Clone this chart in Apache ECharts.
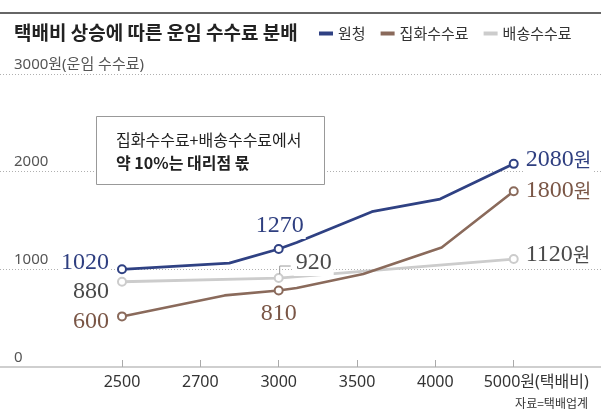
<!DOCTYPE html>
<html>
<head>
<meta charset="utf-8">
<script src="https://cdn.jsdelivr.net/npm/echarts@6/dist/echarts.min.js"></script>
<style>
html,body{margin:0;padding:0;background:#fff;}
#main{width:601px;height:416px;}
</style>
</head>
<body>
<div id="main"></div>
<script>
// ---- data ----
const categories = ['2500', '2700', '3000', '3500', '4000', '5000'];
const yTicks = [0, 1000, 2000, 3000];
const seriesNames = ['원청', '집화수수료', '배송수수료'];
// [x position in category units, value]
const wonchung = [[0, 1000], [1.37, 1064], [2, 1208], [2.23, 1275], [3.19, 1590], [4.06, 1720], [5, 2080]];
const jiphwa   = [[0, 518], [1.31, 733], [2, 784], [2.23, 808], [3.08, 952], [4.08, 1224], [5, 1800]];
const baesong  = [[0, 873], [2, 911], [5, 1105]];
const markerX = [0, 2, 5];
const wonchungLabels = ['1020', '1270', '2080'];
const jiphwaLabels   = ['600', '810', '1800'];
const baesongLabels  = ['880', '920', '1120'];

const SERIF = "'Liberation Serif', 'DejaVu Serif', serif";
const SANS = "'Noto Sans', 'Noto Sans CJK KR', sans-serif";
const KR = "'Noto Sans CJK KR', sans-serif";

const colors = { blue: '#2f4183', brown: '#8a6a5b', gray: '#cccccc' };
const labelColors = { blue: '#2f3f80', brown: '#7a5646', gray: '#4a4a4a' };

function richFor(c) {
  return {
    n: { fontFamily: SERIF, fontSize: 24, color: c, lineHeight: 26 },
    w: { fontFamily: KR, fontSize: 19, color: c, lineHeight: 26 }
  };
}

// label placement per marker (index in markerX)
const placements = {
  blue:  [ {position: 'left', distance: 6, offset: [0, -7]},
           {position: 'top', distance: 5, offset: [1, 0]},
           {position: 'right', distance: 5, offset: [0, -4]} ],
  brown: [ {position: 'left', distance: 6, offset: [0, 5]},
           {position: 'bottom', distance: 5, offset: [0, 0]},
           {position: 'right', distance: 5, offset: [0, 0]} ],
  gray:  [ {position: 'left', distance: 6, offset: [0, 10]},
           {position: 'right', distance: 10, offset: [0, -15]},
           {position: 'right', distance: 5, offset: [0, -4]} ]
};

function buildData(points, labels, key) {
  return points.map(function (p) {
    const mi = markerX.indexOf(p[0]);
    if (mi < 0) return { value: p, symbol: 'none' };
    const pl = placements[key][mi];
    const isEnd = mi === markerX.length - 1;
    return {
      value: p,
      symbol: 'emptyCircle',
      symbolSize: 8,
      label: {
        show: true,
        position: pl.position,
        distance: pl.distance,
        offset: pl.offset,
        backgroundColor: '#fff',
        padding: [0, 2],
        formatter: isEnd ? '{n|' + labels[mi] + '}{w|원}' : '{n|' + labels[mi] + '}',
        rich: richFor(labelColors[key])
      }
    };
  });
}

const chart = echarts.init(document.getElementById('main'), null, { renderer: 'canvas' });

const option = {
  backgroundColor: '#fff',
  animation: false,
  title: {
    text: '택배비 상승에 따른 운임 수수료 분배',
    left: 14, top: 23, padding: 0,
    textStyle: { fontFamily: KR, fontSize: 19, fontWeight: 'bold', color: '#222', lineHeight: 20 }
  },
  legend: {
    data: seriesNames,
    left: 319, top: 26, padding: 0,
    icon: 'rect', itemWidth: 14, itemHeight: 4, itemGap: 15,
    itemStyle: { borderWidth: 0 },
    textStyle: { fontFamily: KR, fontSize: 15, color: '#333' },
    selectedMode: false
  },
  grid: { left: 0, right: 0, top: 74, bottom: 49 },
  xAxis: {
    type: 'value',
    min: -1.557, max: 6.114,
    axisLine: { show: true, lineStyle: { color: '#cfcfcf', width: 2 } },
    axisTick: { show: true, inside: true, length: 7, customValues: [0, 1, 2, 3, 4, 5], lineStyle: { color: '#aaa', width: 1 } },
    splitLine: { show: false },
    axisLabel: {
      customValues: [0, 1, 2, 3, 4, 5],
      margin: 7,
      fontFamily: SANS, fontSize: 16, color: '#333',
      formatter: function (v) {
        const i = Math.round(v);
        if (i === categories.length - 1) return '{sp|}' + categories[i] + '원(택배비)';
        return categories[i];
      },
      rich: { sp: { width: 45 } }
    }
  },
  yAxis: {
    type: 'value', min: 0, max: 3000, interval: 1000,
    axisLine: { show: false }, axisTick: { show: false },
    splitLine: { show: true, lineStyle: { color: '#b0b0b0', type: [1, 2], width: 1 } },
    axisLabel: {
      inside: true, margin: 14, align: 'left', verticalAlign: 'bottom',
      padding: [0, 0, 2, 0],
      fontFamily: SANS, fontSize: 15, color: '#555',
      formatter: function (v) { return v === yTicks[yTicks.length - 1] ? v + '원(운임 수수료)' : String(v); }
    }
  },
  series: [
    {
      name: seriesNames[2], type: 'line', color: colors.gray,
      lineStyle: { width: 2.8, color: colors.gray },
      itemStyle: { color: colors.gray },
      data: buildData(baesong, baesongLabels, 'gray'), z: 2
    },
    {
      name: seriesNames[1], type: 'line', color: colors.brown,
      lineStyle: { width: 2.6, color: colors.brown },
      itemStyle: { color: colors.brown },
      data: buildData(jiphwa, jiphwaLabels, 'brown'), z: 3
    },
    {
      name: seriesNames[0], type: 'line', color: colors.blue,
      lineStyle: { width: 2.8, color: colors.blue },
      itemStyle: { color: colors.blue },
      data: buildData(wonchung, wonchungLabels, 'blue'), z: 4
    }
  ]
};
chart.setOption(option);

// leader for the 920 label, anchored on the data point via the axes
const pt = chart.convertToPixel({ xAxisIndex: 0, yAxisIndex: 0 }, baesong[1]);
chart.setOption({
  graphic: [
    { type: 'rect', shape: { x: 0, y: 12, width: 601, height: 2 }, style: { fill: '#666' }, z: 10 },
    { type: 'rect', shape: { x: 96.5, y: 116.5, width: 228, height: 68 }, style: { fill: '#fff', stroke: '#999', lineWidth: 1 }, z: 10 },
    { type: 'text', style: { x: 116, y: 140, text: '집화수수료+배송수수료에서', font: '16px ' + KR, fill: '#222', verticalAlign: 'middle' }, z: 11 },
    { type: 'text', style: { x: 116, y: 163, text: '약 10%는 대리점 몫', font: 'bold 16px ' + KR, fill: '#222', verticalAlign: 'middle' }, z: 11 },
    { type: 'polyline', shape: { points: [[pt[0] + 1, pt[1] - 4], [pt[0] + 1, pt[1] - 12], [pt[0] + 12, pt[1] - 12]] }, style: { stroke: '#999', lineWidth: 1, fill: null }, z: 5 },
    { type: 'text', style: { x: 588, y: 403, text: '자료=택배업계', font: '12px ' + KR, fill: '#333', align: 'right', verticalAlign: 'middle' }, z: 11 }
  ]
});
</script>
</body>
</html>
